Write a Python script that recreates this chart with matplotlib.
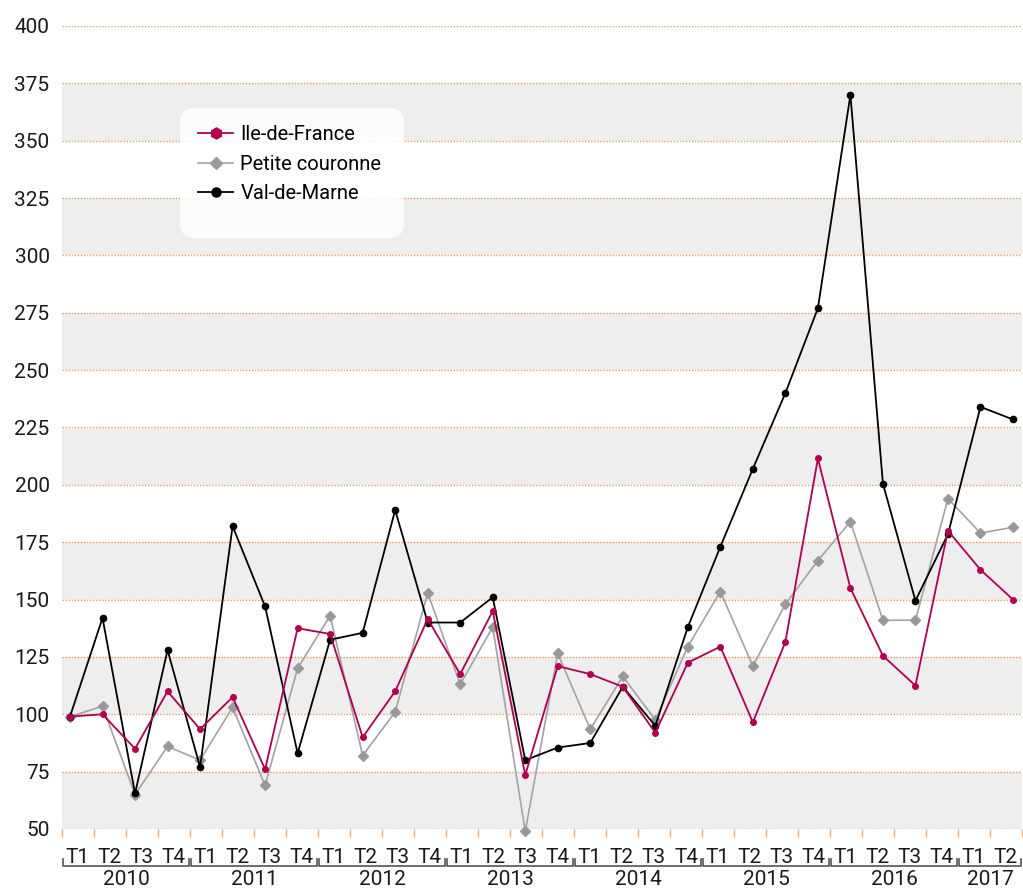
import numpy as np
import matplotlib
matplotlib.use("Agg")
import matplotlib.pyplot as plt
from matplotlib.lines import Line2D
from matplotlib.patches import FancyBboxPatch


# --- données ---

years = ["2010", "2011", "2012", "2013", "2014", "2015", "2016", "2017"]
quarters = ["T1", "T2", "T3", "T4"] * 7 + ["T1", "T2"]

ile_de_france = [99, 100, 85, 110, 93.5, 107.5, 76, 137.5, 135, 90,
                 110, 141.5, 117.5, 145, 73.5, 121, 117.5, 112, 92, 122.5,
                 129.5, 96.5, 131.5, 211.5, 155, 125.5, 112.5, 180, 163, 150]
petite_couronne = [99, 103.5, 65, 86, 80, 103, 69, 120, 143, 82,
                   101, 153, 113, 138, 49, 126.5, 93.5, 116.5, 97.5, 129.5,
                   153.5, 121, 148, 167, 184, 141, 141, 194, 179, 181.5]
val_de_marne = [99, 142, 65.5, 128, 77, 182, 147, 83, 132.5, 135.5,
                189, 140, 140, 151, 80, 85.5, 87.5, 112, 95, 138,
                173, 207, 240, 277, 370, 200.5, 149.5, 178.5, 234, 228.5]

RED = "#B3004F"
GREY = "#A3A3A3"
BLACK = "#000000"
ORANGE = "#EE9C62"
FONT = "Roboto"
FS = 15

plt.rcParams["font.family"] = [FONT, "DejaVu Sans"]

W, H = 1023, 891
fig = plt.figure(figsize=(W / 100, H / 100), dpi=100)
ax = fig.add_axes([62 / W, 62 / H, 960 / W, 803 / H])

x = np.arange(len(quarters))
lo, hi = -0.246, 29.277
ax.set_xlim(lo, hi)
ax.set_ylim(50, 400)

# bandes grises
for b in range(50, 400, 50):
    ax.axhspan(b, b + 25, color="#EEEEEE", zorder=0, lw=0)

ax.set_yticks(range(50, 401, 25))
ax.grid(axis="y", color=ORANGE, linestyle=(0, (1, 1.2)), linewidth=1)
ax.set_axisbelow(True)
for s in ax.spines.values():
    s.set_visible(False)
ax.tick_params(axis="y", length=0, pad=9, labelsize=FS, labelcolor="#1a1a1a")

ticks = np.linspace(lo, hi, len(quarters) + 1)
ax.set_xticks(ticks)
ax.set_xticklabels([])
ax.tick_params(axis="x", length=6, width=1, color="#F2AC7E", direction="out")

# séries
ax.plot(x, petite_couronne, color=GREY, lw=1.2, marker="D", ms=5,
        mfc="#999999", mec="#999999", zorder=3, clip_on=False)
ax.plot(x, val_de_marne, color=BLACK, lw=1.3, marker="o", ms=4.5,
        zorder=4, clip_on=False)
ax.plot(x, ile_de_france, color=RED, lw=1.3, marker="o", ms=4,
        zorder=5, clip_on=False)

# axe à deux niveaux
trans = ax.get_xaxis_transform()
for i, q in enumerate(quarters):
    ax.text((ticks[i] + ticks[i + 1]) / 2, -0.0349, q, transform=trans,
            ha="center", va="center", fontsize=FS, color="#1a1a1a")

eps = 0.03
for k, yr in enumerate(years):
    s = ticks[4 * k]
    e = ticks[min(4 * k + 4, len(quarters))]
    ax.plot([s + eps, s + eps, e - eps, e - eps], [-0.037, -0.0461, -0.0461, -0.037],
            transform=trans, color="#555555", lw=1.2, clip_on=False)
    ax.text((s + e) / 2, -0.0635, yr, transform=trans, ha="center",
            va="center", fontsize=FS, color="#1a1a1a")

# légende
r = 0.15
box = FancyBboxPatch((1.80 + r, 6.53 + r), 2.24 - 2 * r, 1.30 - 2 * r,
                     boxstyle=f"round,pad={r}", transform=fig.dpi_scale_trans,
                     facecolor="white", edgecolor="none", alpha=0.88, zorder=1)
fig.add_artist(box)

handles = [
    Line2D([], [], color=RED, lw=1.3, marker="h", ms=8),
    Line2D([], [], color=GREY, lw=1.2, marker="D", ms=6, mfc="#999999", mec="#999999"),
    Line2D([], [], color=BLACK, lw=1.3, marker="o", ms=6.5),
]
fig.legend(handles, ["Ile-de-France", "Petite couronne", "Val-de-Marne"],
           loc="upper left", bbox_to_anchor=(198 / W, (H - 125.5) / H),
           frameon=False, fontsize=14.5, borderpad=0, borderaxespad=0,
           handlelength=1.75, handletextpad=0.35, labelspacing=0.51)

fig.savefig("out.png", dpi=100)
